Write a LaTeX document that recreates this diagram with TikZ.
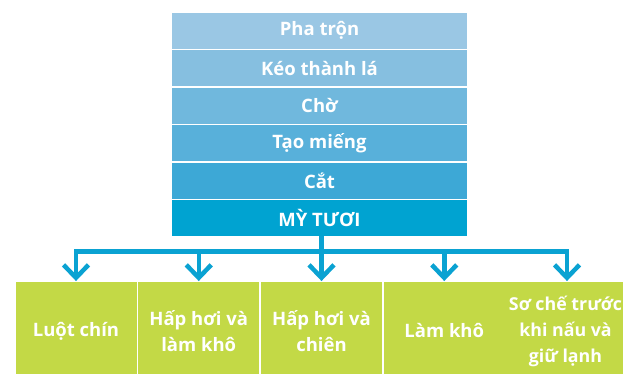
\documentclass[tikz,border=0pt]{standalone}
\usepackage{fontspec}
\setmainfont{Open Sans}
\usetikzlibrary{calc}
\definecolor{r1}{HTML}{9AC7E4}
\definecolor{r2}{HTML}{86BFE0}
\definecolor{r3}{HTML}{70B8DD}
\definecolor{r4}{HTML}{58B0DA}
\definecolor{r5}{HTML}{3DA8D6}
\definecolor{r6}{HTML}{00A3D1}
\definecolor{lime}{HTML}{C3D946}
\definecolor{conn}{HTML}{0AA2D2}
\tikzset{
  rowbox/.style={minimum width=295pt, minimum height=36pt, inner sep=0pt,
    text=white, font=\fontsize{18.5}{20}\selectfont\bfseries},
  greenbox/.style={fill=lime, minimum width=121pt, minimum height=98pt, inner sep=0pt,
    text=white, align=center, font=\fontsize{18.5}{26}\selectfont\bfseries},
  link/.style={draw=conn, line width=4.5pt},
  chev/.style={draw=conn, line width=4.5pt, miter limit=10}
}
\begin{document}
\begin{tikzpicture}[x=1pt,y=-1pt]
\useasboundingbox (0,0) rectangle (623,374);
\clip (0,0) rectangle (623,374);
\node[rowbox, fill=r1] (s1) at (319.5,30.75) {Pha trộn};
\node[rowbox, fill=r2] (s2) at (319.5,68.25) {Kéo thành lá};
\node[rowbox, fill=r3] (s3) at (319.5,105.75) {Chờ};
\node[rowbox, fill=r4] (s4) at (319.5,143.25) {Tạo miếng};
\node[rowbox, fill=r5] (s5) at (319.5,180.75) {Cắt};
\node[rowbox, fill=r6] (s6) at (319.5,218.25) {MỲ TƯƠI};

\node[greenbox] (b1) at (76,331) {Luột chín};
\node[greenbox] (b2) at (198.75,331) {Hấp hơi và\\làm khô};
\node[greenbox] (b3) at (321.5,331) {Hấp hơi và\\chiên};
\node[greenbox] (b4) at (444.25,331) {Làm khô};
\node[greenbox, font=\fontsize{17.8}{26}\selectfont\bfseries] (b5) at (565.5,331) {Sơ chế trước\\khi nấu và\\giữ lạnh};

\coordinate (jc) at (321.5,251.5);
\coordinate (jl) at (76,251.5);
\coordinate (jr) at (567,251.5);
\draw[link] ($(s6.south)+(2,0)$) -- (jc);
\draw[link, line cap=rect] (jl) -- (jr);
\foreach \b/\dx in {b1/0,b2/0,b3/0,b4/0,b5/1.5}{
  \draw[link] (jl -| {$(\b.north)+(\dx,0)$}) -- ($(\b.north)+(\dx,-4)$);
  \draw[chev] ($(\b.north)+(\dx-12.5,-17)$) -- ($(\b.north)+(\dx,-4)$) -- ($(\b.north)+(\dx+12.5,-17)$);
}
\end{tikzpicture}
\end{document}
